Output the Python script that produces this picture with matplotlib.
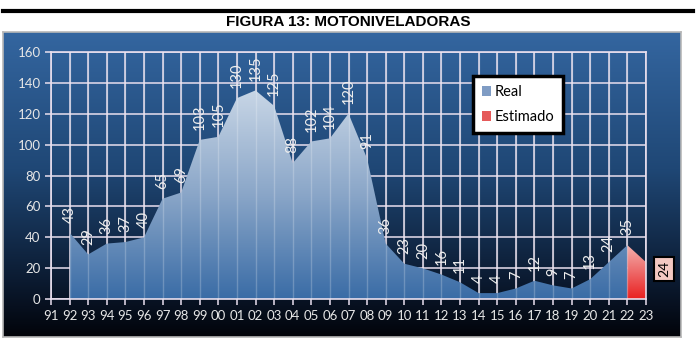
import numpy as np
import matplotlib
matplotlib.use("Agg")
import matplotlib.pyplot as plt
from matplotlib.colors import LinearSegmentedColormap
from matplotlib.patches import Patch
from matplotlib.lines import Line2D

# data
years = ["91", "92", "93", "94", "95", "96", "97", "98", "99", "00", "01", "02",
         "03", "04", "05", "06", "07", "08", "09", "10", "11", "12", "13", "14",
         "15", "16", "17", "18", "19", "20", "21", "22", "23"]
real_years = years[1:32]
real_values = [43, 29, 36, 37, 40, 65, 69, 103, 105, 130, 135, 125, 88, 102, 104,
               120, 91, 36, 23, 20, 16, 11, 4, 4, 7, 12, 9, 7, 13, 24, 35]
est_years = ["22", "23"]
est_values = [35, 24]

title = "FIGURA 13: MOTONIVELADORAS"
grid_col = "#e9dfee"
font = ["Lato", "DejaVu Sans"]

fig = plt.figure(figsize=(6.96, 3.52), dpi=100)

# top rule + title
fig.add_artist(Line2D([3 / 696, 693 / 696], [1 - 11 / 352] * 2, color="black", lw=3))
fig.text(0.5, 1 - 21.5 / 352, title, ha="center", va="center", fontsize=11,
         fontweight="bold", family=["Liberation Sans Narrow", "Liberation Sans", "DejaVu Sans"])

# chart box with blue-to-black gradient
bg = fig.add_axes([3 / 696, 1 - 337 / 352, 678 / 696, 305 / 352])
bg_cmap = LinearSegmentedColormap.from_list(
    "bg", [(0, "#02040a"), (0.18, "#0b1a30"), (0.55, "#1f4775"), (1, "#3466a0")])
bg.imshow(np.linspace(0, 1, 256).reshape(-1, 1), aspect="auto", cmap=bg_cmap,
          origin="lower", extent=[0, 1, 0, 1])
bg.set_xlim(0, 1)
bg.set_ylim(0, 1)
bg.set_xticks([])
bg.set_yticks([])
for s in bg.spines.values():
    s.set_color("#b8b8b8")
    s.set_linewidth(1.2)

ax = fig.add_axes([51 / 696, 1 - 299.3 / 352, 595 / 696, 247.6 / 352])
ax.set_facecolor("none")
xs = np.arange(len(years))

# grid
ax.set_xticks(xs)
ax.set_xticklabels(years)
ax.set_yticks(np.arange(0, 161, 20))
ax.grid(True, color=grid_col, lw=1.1, zorder=0)
ax.set_axisbelow(True)
for s in ax.spines.values():
    s.set_color(grid_col)
    s.set_linewidth(1.2)
ax.tick_params(colors=grid_col, labelcolor="#e6e6e6", labelsize=9.5, length=4, width=1.1)
for lab in ax.get_xticklabels() + ax.get_yticklabels():
    lab.set_family(font)

# real area with vertical gradient
rx = np.array([years.index(y) for y in real_years])
ry = np.array(real_values)
poly = ax.fill_between(rx, 0, ry, color="none", lw=0, zorder=2)
area_cmap = LinearSegmentedColormap.from_list("area", ["#3a6ca6", "#8aa6c8", "#c8d6e6"])
img = ax.imshow(np.linspace(0, 1, 256).reshape(-1, 1), aspect="auto", cmap=area_cmap,
                origin="lower", extent=[rx[0], rx[-1], 0, max(ry)], zorder=2)
img.set_clip_path(poly.get_paths()[0], transform=ax.transData)

# faint vertical lines over the fill
for x in rx:
    ax.axvline(x, color="white", lw=1, alpha=0.22, zorder=3)

# estimated area
ex = np.array([years.index(y) for y in est_years])
ey = np.array(est_values)
epoly = ax.fill_between(ex, 0, ey, color="none", lw=0, zorder=2)
est_cmap = LinearSegmentedColormap.from_list("est", ["#ea2020", "#ee6a6a", "#f3b4b0"])
eimg = ax.imshow(np.linspace(0, 1, 256).reshape(-1, 1), aspect="auto", cmap=est_cmap,
                 origin="lower", extent=[ex[0], ex[-1], 0, max(ey)], zorder=2)
eimg.set_clip_path(epoly.get_paths()[0], transform=ax.transData)
ax.set_xlim(0, len(years) - 1)
ax.set_ylim(0, 160)

# data labels
for x, y in zip(rx, ry):
    ax.annotate(str(y), (x, y), xytext=(0, 7), textcoords="offset points",
                rotation=90, ha="center", va="bottom", color="#eeeeee",
                fontsize=10.5, family=font, zorder=5)
ax.annotate(str(ey[-1]), (ex[-1], ey[-1]), xytext=(13, -5), textcoords="offset points",
            rotation=90, ha="center", va="center", color="black", fontsize=10,
            family=font, annotation_clip=False,
            bbox=dict(boxstyle="square,pad=0.3", fc="#f3c8c2", ec="black", lw=1.5))

# legend
handles = [Patch(facecolor="#7f9cc4", edgecolor="none", label="Real"),
           Patch(facecolor="#e55a5a", edgecolor="none", label="Estimado")]
leg = ax.legend(handles=handles, loc="upper left", bbox_to_anchor=(0.697, 0.93),
                frameon=True, fancybox=False, framealpha=1, edgecolor="black",
                handlelength=0.6, handleheight=0.6, handletextpad=0.3,
                labelspacing=0.75, borderpad=0.6, prop={"family": font, "size": 10.5})
leg.get_frame().set_linewidth(2.5)
leg.set_zorder(6)

fig.savefig("out.png", dpi=100)
